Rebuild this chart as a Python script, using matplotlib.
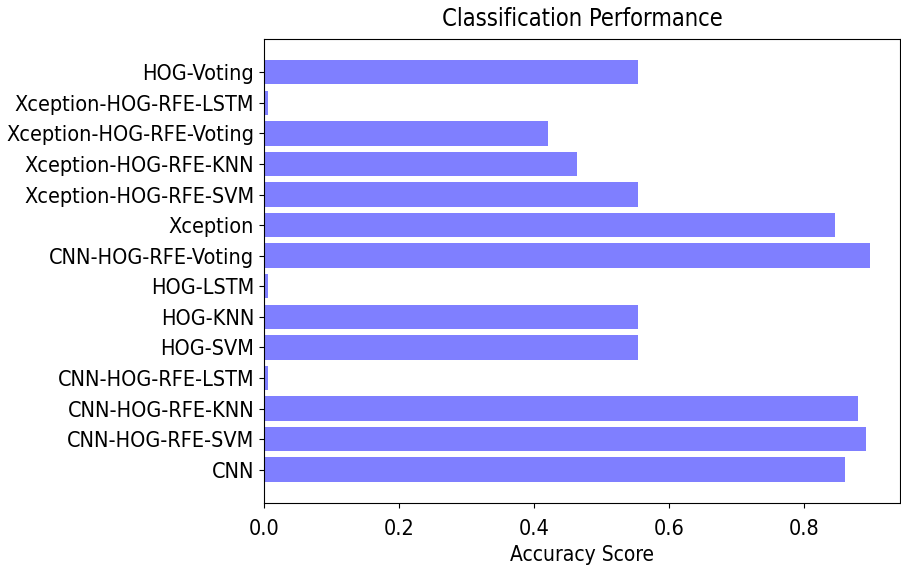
import matplotlib
matplotlib.use("Agg")
import matplotlib.pyplot as plt

# Data
models = [
    "CNN", "CNN-HOG-RFE-SVM", "CNN-HOG-RFE-KNN", "CNN-HOG-RFE-LSTM",
    "HOG-SVM", "HOG-KNN", "HOG-LSTM", "CNN-HOG-RFE-Voting",
    "Xception", "Xception-HOG-RFE-SVM", "Xception-HOG-RFE-KNN",
    "Xception-HOG-RFE-Voting", "Xception-HOG-RFE-LSTM", "HOG-Voting",
]
accuracy = [
    0.861, 0.892, 0.881, 0.006,
    0.554, 0.554, 0.006, 0.898,
    0.847, 0.554, 0.464,
    0.421, 0.006, 0.554,
]

plt.rcParams["font.family"] = ["DejaVu Sans"]
plt.rcParams["font.stretch"] = "condensed"

fig = plt.figure(figsize=(9.01, 5.72), dpi=100)
ax = fig.add_axes([0.293, 0.1206, 0.706, 0.8114])

y_pos = range(len(models))
ax.barh(y_pos, accuracy, align="center", color="b", alpha=0.5)
ax.set_yticks(list(y_pos))
ax.set_yticklabels(models)
ax.tick_params(labelsize=15.5)
ax.tick_params(axis="x", pad=8)
ax.set_xlabel("Accuracy Score", fontsize=15, labelpad=4)
ax.set_title("Classification Performance", fontsize=17, pad=9)

fig.savefig("out.png", dpi=100)
